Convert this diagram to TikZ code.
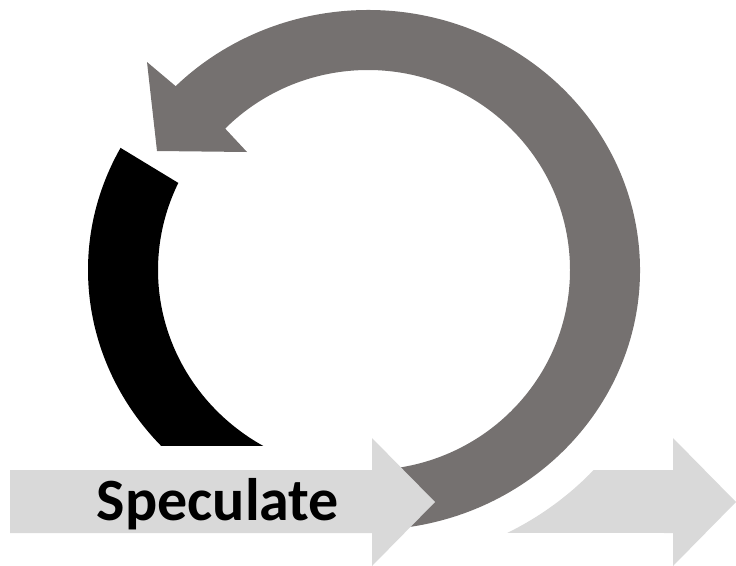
\documentclass[tikz,border=0pt]{standalone}
\usepackage{fontspec}
\setmainfont{Carlito}
\usepackage{tikz}
\usetikzlibrary{calc}
\definecolor{loopGray}{RGB}{117, 113, 112}
\definecolor{bandGray}{RGB}{217, 217, 217}

\begin{document}
\begin{tikzpicture}[x=1pt, y=-1pt,
    band/.style={fill=bandGray},
    loop/.style={fill=loopGray}]
            \useasboundingbox (0,0) rectangle (736,565);
            \coordinate (loopc) at (368,270);

            % Black arc
            \begin{scope}
                \clip (0,0) rectangle (736,445);
                \fill[black] ($(loopc)+(207.9:280 and 261)$) arc[start angle=207.9, end angle=130, x radius=280, y radius=261]
                    -- ($(loopc)+(115:210 and 203)$) arc[start angle=115, end angle=205.4, x radius=210, y radius=203] -- cycle;
            \end{scope}

            % Loop arrow
            \fill[loop] ($(loopc)+(85:272 and 260)$) arc[start angle=85, end angle=-135, x radius=272, y radius=260]
                -- (147,62) -- (157,151) -- (247,152)
                -- ($(loopc)+(-135:202 and 200)$) arc[start angle=-135, end angle=85, x radius=202, y radius=200] -- cycle;

            % Straight arrows
            \fill[band] (10,470) -- (372,470) -- (372,438) -- (435,502) -- (372,566) -- (372,533) -- (10,533) -- cycle;
            \fill[band] ($(loopc)+(63:307 and 295)$) arc[start angle=63, end angle=42.7, x radius=307, y radius=295]
                -- (673,470) -- (673,438) -- (736,502) -- (673,566) -- (673,533) -- cycle;

            \node[font=\bfseries\fontsize{60}{60}\selectfont, anchor=base, inner sep=0pt] (speculate) at (218,520) {Speculate};
        \end{tikzpicture}
\end{document}
